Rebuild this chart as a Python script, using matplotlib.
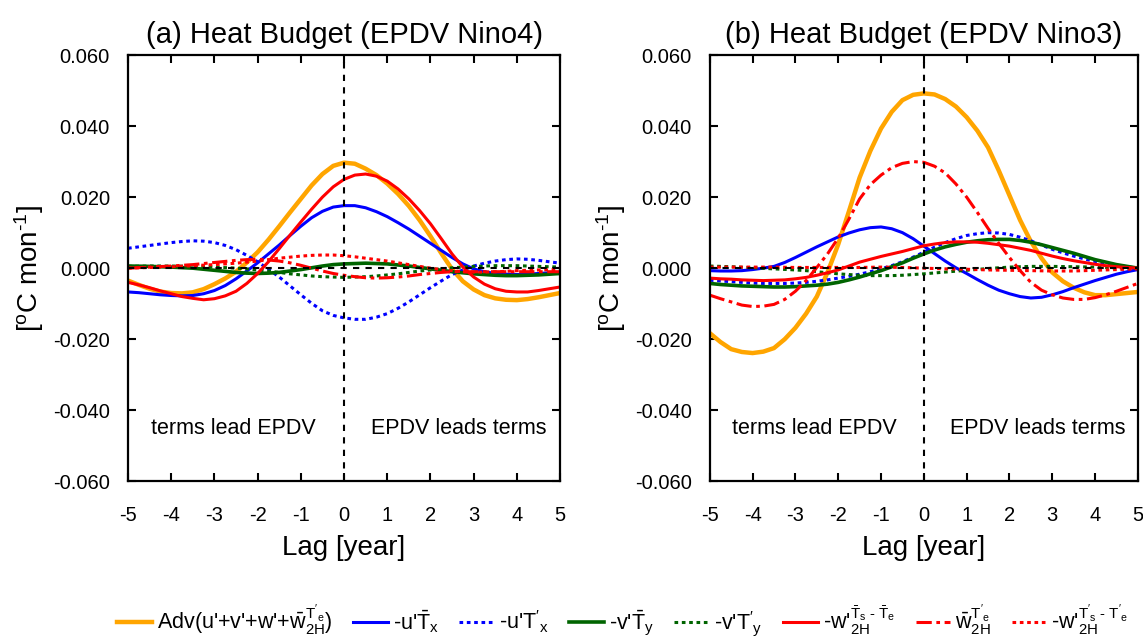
import matplotlib

matplotlib.use("Agg")
import matplotlib.pyplot as plt

plt.rcParams["font.family"] = ["Liberation Sans", "DejaVu Sans"]
plt.rcParams["mathtext.fontset"] = "custom"
plt.rcParams["mathtext.rm"] = "Liberation Sans"
plt.rcParams["mathtext.it"] = "Liberation Sans"
plt.rcParams["mathtext.bf"] = "Liberation Sans:bold"
plt.rcParams["axes.unicode_minus"] = False

# lag in years, every quarter year from -5 to 5
lags = [i / 4 for i in range(-20, 21)]

# (a) EPDV Nino4
adv_a = [-0.0035, -0.0047, -0.0058, -0.0066, -0.0070, -0.0071, -0.0068, -0.0059, -0.0045, -0.0029, -0.0010,
         0.0016, 0.0045, 0.0080, 0.0118, 0.0157, 0.0195, 0.0233, 0.0265, 0.0288, 0.0297,
         0.0294, 0.0280, 0.0262, 0.0238, 0.0209, 0.0175, 0.0135, 0.0090, 0.0042, -0.0003,
         -0.0037, -0.0060, -0.0076, -0.0085, -0.0089, -0.0090, -0.0087, -0.0082, -0.0076, -0.0070]
uTx_a = [-0.0067, -0.0069, -0.0072, -0.0075, -0.0077, -0.0078, -0.0077, -0.0072, -0.0063, -0.0049, -0.0030,
         -0.0008, 0.0015, 0.0040, 0.0065, 0.0092, 0.0118, 0.0142, 0.0160, 0.0172, 0.0176,
         0.0176, 0.0170, 0.0159, 0.0145, 0.0128, 0.0110, 0.0090, 0.0070, 0.0050, 0.0030,
         0.0012, -0.0002, -0.0010, -0.0015, -0.0017, -0.0018, -0.0017, -0.0015, -0.0013, -0.0012]
uTxp_a = [0.0056, 0.0060, 0.0064, 0.0068, 0.0072, 0.0075, 0.0077, 0.0076, 0.0072, 0.0064, 0.0052,
          0.0036, 0.0018, -0.0003, -0.0025, -0.0050, -0.0075, -0.0099, -0.0120, -0.0133, -0.0140,
          -0.0144, -0.0144, -0.0138, -0.0128, -0.0113, -0.0095, -0.0075, -0.0055, -0.0036, -0.0018,
          -0.0005, 0.0006, 0.0014, 0.0020, 0.0024, 0.0026, 0.0025, 0.0022, 0.0018, 0.0014]
vTy_a = [0.0006, 0.00055, 0.0005, 0.0004, 0.0003, 0.00015, 0.0000, -0.0003, -0.0006, -0.0009, -0.0012,
         -0.0014, -0.0015, -0.0014, -0.0012, -0.0008, -0.0004, 0.0001, 0.0006, 0.0010, 0.0012,
         0.0013, 0.0014, 0.0013, 0.0012, 0.0009, 0.0006, 0.0002, -0.0002, -0.0006, -0.0010,
         -0.0013, -0.0016, -0.0018, -0.0020, -0.0021, -0.0021, -0.0020, -0.0019, -0.0017, -0.0015]
vTyp_a = [0.0005, 0.00055, 0.0006, 0.0006, 0.0006, 0.00055, 0.0005, 0.0004, 0.0003, 0.00015, 0.0000,
          -0.0002, -0.0005, -0.0008, -0.0012, -0.0016, -0.0019, -0.0022, -0.0024, -0.0025, -0.0026,
          -0.0025, -0.0024, -0.0022, -0.0019, -0.0016, -0.0012, -0.0008, -0.0005, -0.0002, 0.0001,
          0.0003, 0.0005, 0.0006, 0.0007, 0.0007, 0.0007, 0.0006, 0.0005, 0.0004, 0.0003]
wTs_a = [-0.0040, -0.0047, -0.0055, -0.0064, -0.0072, -0.0080, -0.0085, -0.0089, -0.0086, -0.0078, -0.0065,
         -0.0043, -0.0015, 0.0018, 0.0055, 0.0093, 0.0130, 0.0166, 0.0200, 0.0229, 0.0250,
         0.0262, 0.0265, 0.0259, 0.0245, 0.0223, 0.0195, 0.0162, 0.0125, 0.0083, 0.0040,
         0.0003, -0.0025, -0.0045, -0.0058, -0.0065, -0.0067, -0.0067, -0.0063, -0.0058, -0.0053]
wbar_a = [0.0000, 0.00015, 0.0003, 0.00045, 0.0006, 0.0008, 0.0010, 0.0013, 0.0016, 0.0019, 0.0022,
          0.0024, 0.0025, 0.0023, 0.0020, 0.0015, 0.0008, 0.0000, -0.0008, -0.0015, -0.0020,
          -0.0024, -0.0027, -0.0028, -0.0027, -0.0025, -0.0022, -0.0018, -0.0015, -0.0012, -0.0010,
          -0.0010, -0.0010, -0.0010, -0.0010, -0.0010, -0.0010, -0.0010, -0.0010, -0.0010, -0.0010]
wTsp_a = [0.0000, 0.0001, 0.0002, 0.0003, 0.0004, 0.00055, 0.0007, 0.00085, 0.0010, 0.0012, 0.0014,
          0.0017, 0.0020, 0.0024, 0.0028, 0.0031, 0.0034, 0.0036, 0.0037, 0.0037, 0.0035,
          0.0032, 0.0028, 0.0024, 0.0020, 0.0015, 0.0010, 0.0005, 0.0000, -0.0004, -0.0007,
          -0.0010, -0.0011, -0.0011, -0.0010, -0.0009, -0.0007, -0.0006, -0.0005, -0.00045, -0.0004]

# (b) EPDV Nino3
adv_b = [-0.0183, -0.0208, -0.0228, -0.0236, -0.0239, -0.0235, -0.0225, -0.0200, -0.0168, -0.0128, -0.0080,
         -0.0012, 0.0067, 0.0160, 0.0255, 0.0330, 0.0393, 0.0440, 0.0473, 0.0488, 0.0492,
         0.0489, 0.0476, 0.0455, 0.0425, 0.0387, 0.0340, 0.0275, 0.0205, 0.0135, 0.0075,
         0.0028, -0.0012, -0.0037, -0.0055, -0.0068, -0.0076, -0.0076, -0.0073, -0.0070, -0.0067]
uTx_b = [-0.0007, -0.0008, -0.0008, -0.0007, -0.0004, 0.0000, 0.0005, 0.0016, 0.0030, 0.0045, 0.0060,
         0.0074, 0.0088, 0.0099, 0.0108, 0.0114, 0.0116, 0.0111, 0.0100, 0.0083, 0.0062,
         0.0041, 0.0020, 0.0001, -0.0015, -0.0032, -0.0048, -0.0062, -0.0072, -0.0080, -0.0084,
         -0.0082, -0.0075, -0.0066, -0.0055, -0.0045, -0.0035, -0.0026, -0.0017, -0.0010, -0.0004]
uTxp_b = [-0.0034, -0.0036, -0.0038, -0.0040, -0.0042, -0.0043, -0.0043, -0.0043, -0.0042, -0.0040, -0.0037,
          -0.0033, -0.0028, -0.0023, -0.0017, -0.0010, -0.0002, 0.0007, 0.0018, 0.0031, 0.0045,
          0.0059, 0.0072, 0.0083, 0.0092, 0.0097, 0.0100, 0.0099, 0.0095, 0.0087, 0.0077,
          0.0065, 0.0053, 0.0043, 0.0034, 0.0026, 0.0019, 0.0013, 0.0008, 0.0004, 0.0000]
vTy_b = [-0.0043, -0.0046, -0.0048, -0.0050, -0.0051, -0.0052, -0.0053, -0.0053, -0.0052, -0.0050, -0.0048,
         -0.0045, -0.0040, -0.0033, -0.0025, -0.0016, -0.0007, 0.0004, 0.0015, 0.0028, 0.0040,
         0.0051, 0.0060, 0.0067, 0.0073, 0.0077, 0.0080, 0.0081, 0.0081, 0.0078, 0.0073,
         0.0066, 0.0058, 0.0050, 0.0042, 0.0033, 0.0024, 0.0017, 0.0010, 0.0005, 0.0000]
vTyp_b = [0.0006, 0.0005, 0.0004, 0.00025, 0.0001, -0.00005, -0.0002, -0.00035, -0.0005, -0.0007, -0.0010,
          -0.0013, -0.0016, -0.0018, -0.0020, -0.0021, -0.0021, -0.0021, -0.0020, -0.0018, -0.0016,
          -0.00135, -0.0011, -0.00085, -0.0006, -0.00035, -0.0001, 0.0001, 0.0003, 0.0004, 0.0005,
          0.0005, 0.0005, 0.00045, 0.0004, 0.00035, 0.0003, 0.0002, 0.0001, 0.00005, 0.0000]
wTs_b = [-0.0028, -0.0030, -0.0031, -0.0033, -0.0034, -0.0035, -0.0034, -0.0033, -0.0030, -0.0026, -0.0020,
         -0.0013, -0.0005, 0.0006, 0.0017, 0.0025, 0.0033, 0.0040, 0.0047, 0.0055, 0.0063,
         0.0068, 0.0072, 0.0074, 0.0074, 0.0073, 0.0070, 0.0066, 0.0062, 0.0056, 0.0050,
         0.0042, 0.0034, 0.0027, 0.0021, 0.0016, 0.0011, 0.0007, 0.0004, 0.0002, 0.0000]
wbar_b = [-0.0076, -0.0086, -0.0095, -0.0104, -0.0108, -0.0107, -0.0102, -0.0088, -0.0065, -0.0035, 0.0002,
          0.0040, 0.0085, 0.0138, 0.0195, 0.0235, 0.0262, 0.0283, 0.0295, 0.0300, 0.0298,
          0.0287, 0.0268, 0.0237, 0.0200, 0.0157, 0.0112, 0.0070, 0.0030, -0.0007, -0.0040,
          -0.0062, -0.0075, -0.0084, -0.0088, -0.0088, -0.0083, -0.0075, -0.0065, -0.0054, -0.0043]
wTsp_b = [0.0003, 0.0003, 0.0003, 0.0003, 0.0003, 0.0003, 0.0003, 0.00025, 0.0002, 0.0002, 0.0002,
          0.0002, 0.0002, 0.0002, 0.0002, 0.00025, 0.0003, 0.00025, 0.0002, 0.0001, 0.0000,
          -0.0001, -0.0002, -0.00025, -0.0003, -0.0004, -0.0005, -0.00055, -0.0006, -0.00065, -0.0007,
          -0.00075, -0.0008, -0.0008, -0.0008, -0.0007, -0.0006, -0.0005, -0.0004, -0.0003, -0.0002]

labels = [
    r"Adv(u'+v'+w'+$\bar{\mathrm{w}}_{\mathrm{2H}}^{\mathrm{T}'_{\mathrm{e}}}$)",
    r"-u'$\bar{\mathrm{T}}_{\mathrm{x}}$",
    r"-u'$\mathrm{T}'_{\mathrm{x}}$",
    r"-v'$\bar{\mathrm{T}}_{\mathrm{y}}$",
    r"-v'$\mathrm{T}'_{\mathrm{y}}$",
    r"-w'$_{\mathrm{2H}}^{\bar{\mathrm{T}}_{\mathrm{s}}\text{ - }\bar{\mathrm{T}}_{\mathrm{e}}}$",
    r"$\bar{\mathrm{w}}_{\mathrm{2H}}^{\mathrm{T}'_{\mathrm{e}}}$",
    r"-w'$_{\mathrm{2H}}^{\mathrm{T}'_{\mathrm{s}}\text{ - }\mathrm{T}'_{\mathrm{e}}}$",
]
styles = [
    dict(color="#FFA500", lw=3.2, ls="-"),
    dict(color="#0000FF", lw=2.2, ls="-"),
    dict(color="#0000FF", lw=2.2, ls=(0, (1.2, 1.2))),
    dict(color="#006400", lw=2.6, ls="-"),
    dict(color="#006400", lw=2.2, ls=(0, (1.2, 1.2))),
    dict(color="#FF0000", lw=2.2, ls="-"),
    dict(color="#FF0000", lw=2.2, ls=(0, (5, 1.5, 1.2, 1.5))),
    dict(color="#FF0000", lw=2.2, ls=(0, (1.2, 1.2))),
]

panels = [
    ("(a) Heat Budget (EPDV Nino4)", [adv_a, uTx_a, uTxp_a, vTy_a, vTyp_a, wTs_a, wbar_a, wTsp_a]),
    ("(b) Heat Budget (EPDV Nino3)", [adv_b, uTx_b, uTxp_b, vTy_b, vTyp_b, wTs_b, wbar_b, wTsp_b]),
]

fig = plt.figure(figsize=(11.43, 6.4), dpi=100)
axes = [fig.add_axes([0.112, 0.248, 0.378, 0.666]),
        fig.add_axes([0.621, 0.248, 0.3745, 0.666])]

handles = []
for ax, (title, series) in zip(axes, panels):
    handles = []
    for values, style, label in zip(series, styles, labels):
        (line,) = ax.plot(lags, values, label=label, zorder=2, **style)
        handles.append(line)
    ax.axhline(0, color="black", lw=1.5, ls=(0, (3, 3)), zorder=3)
    ax.axvline(0, color="black", lw=1.5, ls=(0, (3, 3)), zorder=3)

    ax.set_xlim(-5, 5)
    ax.set_ylim(-0.06, 0.06)
    ax.set_xticks(range(-5, 6))
    ax.set_yticks([-0.06, -0.04, -0.02, 0.0, 0.02, 0.04, 0.06])
    ax.set_yticklabels([f"{v:.3f}" for v in ax.get_yticks()])
    ax.tick_params(direction="in", top=True, right=True, length=6, width=1.5,
                   labelsize=14.5)
    ax.tick_params(axis="x", pad=18)
    ax.tick_params(axis="y", pad=13)
    for spine in ax.spines.values():
        spine.set_linewidth(1.6)
    ax.set_title(title, fontsize=21, pad=9)
    ax.set_xlabel("Lag [year]", fontsize=20, labelpad=7)
    ax.set_ylabel(r"[$^{\mathrm{o}}$C mon$^{\text{-1}}$]", fontsize=20, labelpad=5)
    ax.text(-2.55, -0.045, "terms lead EPDV", ha="center", va="center", fontsize=15.5)
    ax.text(2.65, -0.045, "EPDV leads terms", ha="center", va="center", fontsize=15.5)

fig.legend(handles=handles, labels=labels, loc="center", bbox_to_anchor=(0.545, 0.03),
           ncol=8, frameon=False, fontsize=15.5, handlelength=1.6, handletextpad=0.25,
           columnspacing=0.95, borderaxespad=0)

fig.savefig("out.png", dpi=100)
